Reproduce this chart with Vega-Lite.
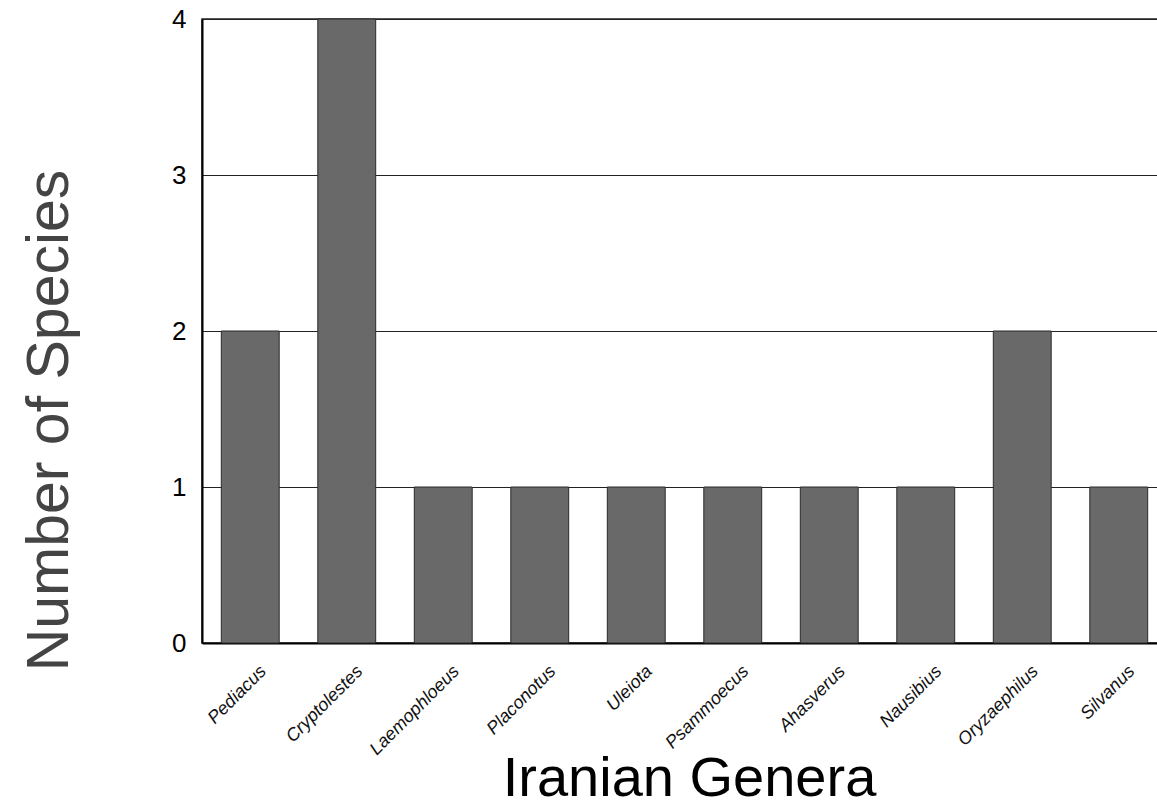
{
  "$schema": "https://vega.github.io/schema/vega-lite/v6.json",
  "autosize": {"type": "none"},
  "padding": {"left": 202, "top": 19, "right": 0, "bottom": 164},
  "width": 965,
  "height": 624,
  "background": "white",
  "config": {
    "font": "Liberation Sans",
    "view": {"stroke": "#222", "strokeWidth": 1.5}
  },
  "data": {
    "values": [
      {"genus": "Pediacus", "species": 2},
      {"genus": "Cryptolestes", "species": 4},
      {"genus": "Laemophloeus", "species": 1},
      {"genus": "Placonotus", "species": 1},
      {"genus": "Uleiota", "species": 1},
      {"genus": "Psammoecus", "species": 1},
      {"genus": "Ahasverus", "species": 1},
      {"genus": "Nausibius", "species": 1},
      {"genus": "Oryzaephilus", "species": 2},
      {"genus": "Silvanus", "species": 1}
    ]
  },
  "mark": {"type": "bar", "color": "#696969", "stroke": "#2a2a2a", "strokeWidth": 1},
  "encoding": {
    "x": {
      "field": "genus",
      "type": "nominal",
      "sort": null,
      "scale": {"paddingInner": 0.4, "paddingOuter": 0.2},
      "axis": {
        "title": "Iranian Genera",
        "titleFontSize": 56,
        "titleFontWeight": "normal",
        "titleColor": "#000",
        "titleX": 487,
        "titleY": 152,
        "titleAlign": "center",
        "titleBaseline": "alphabetic",
        "labelAngle": -45,
        "labelAlign": "right",
        "labelBaseline": "top",
        "labelFontStyle": "italic",
        "labelFontSize": 18,
        "labelColor": "#111",
        "labelOffset": 7,
        "labelPadding": 19,
        "ticks": false,
        "domainColor": "#000",
        "domainWidth": 2
      }
    },
    "y": {
      "field": "species",
      "type": "quantitative",
      "scale": {"domain": [0, 4], "nice": false},
      "axis": {
        "values": [0, 1, 2, 3, 4],
        "title": "Number of Species",
        "titleFontSize": 59,
        "titleFontWeight": "normal",
        "titleColor": "#444",
        "titleAngle": -90,
        "titleX": -135,
        "titleY": 401,
        "titleAlign": "center",
        "titleBaseline": "alphabetic",
        "labelFontSize": 26,
        "labelColor": "#000",
        "labelPadding": 16,
        "ticks": false,
        "grid": true,
        "gridColor": "#222",
        "gridWidth": 1,
        "domainColor": "#000",
        "domainWidth": 2
      }
    }
  }
}
